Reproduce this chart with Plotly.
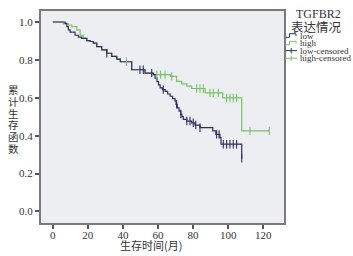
import numpy as np
import plotly.graph_objects as go

# ---- data ----
low_time = [0, 7.0, 8.0, 8.9, 9.9, 12.7, 14.6, 16.5, 19.4, 21.3, 23.1, 25.1, 27.9, 30.8, 33.6,
            36.5, 38.5, 45.0, 52.6, 57.3, 58.3, 59.4, 60.3, 61.2, 62.5, 64.1, 65.5, 66.9, 68.3,
            69.7, 70.3, 71.0, 72.0, 72.9, 73.6, 74.4, 76.4, 79.2, 81.1, 83.9, 91.2, 93.0, 95.3,
            95.9, 107.7]
low_surv = [1.0, 0.993, 0.975, 0.958, 0.946, 0.93, 0.92, 0.914, 0.902, 0.897, 0.888, 0.87, 0.853,
            0.835, 0.818, 0.804, 0.79, 0.748, 0.73, 0.722, 0.704, 0.685, 0.668, 0.652, 0.643,
            0.634, 0.62, 0.608, 0.595, 0.582, 0.565, 0.547, 0.53, 0.514, 0.5, 0.486, 0.477,
            0.468, 0.456, 0.442, 0.425, 0.407, 0.39, 0.355, 0.28]
low_censor = [30.8, 49.7, 51.6, 56.4, 63.0, 70.6, 73.0, 76.4, 78.2, 80.1, 81.5, 83.9, 93.4, 94.8,
              97.2, 99.1, 101.0, 102.9, 104.8, 107.7]

high_time = [0, 6.0, 8.9, 10.8, 13.7, 15.6, 17.5, 19.4, 21.3, 23.1, 25.1, 27.9, 30.8, 33.6, 36.5,
             38.5, 45.0, 52.6, 57.3, 67.0, 70.6, 73.5, 76.4, 79.2, 86.8, 96.9, 107.7, 123.4]
high_surv = [1.0, 0.99, 0.984, 0.975, 0.958, 0.93, 0.914, 0.902, 0.897, 0.888, 0.87, 0.853, 0.835,
             0.818, 0.804, 0.79, 0.748, 0.73, 0.722, 0.713, 0.687, 0.673, 0.661, 0.649, 0.626,
             0.599, 0.425, 0.425]
high_censor = [42.0, 59.3, 61.5, 64.0, 67.8, 82.0, 83.9, 85.8, 89.6, 91.5, 94.4, 99.1, 101.0,
               102.9, 104.8, 112.4, 123.4]

x_ticks = [0, 20, 40, 60, 80, 100, 120]
y_ticks = [0.0, 0.2, 0.4, 0.6, 0.8, 1.0]
y_tick_labels = ["0.0", "0.2", "0.4", "0.6", "0.8", "1.0"]
legend_title = ["TGFBR2", "表达情况"]
legend_labels = ["low", "high", "low-censored", "high-censored"]
x_title = "生存时间(月)"
y_title = "累计生存函数"

LOW_C = "#2f2f5e"
HIGH_C = "#7cc06a"


def step_value(times, survs, t):
    idx = np.searchsorted(np.asarray(times), t, side="right") - 1
    return float(np.asarray(survs)[idx])


fig = go.Figure()
fig.add_trace(go.Scatter(x=high_time, y=high_surv, mode="lines", line=dict(shape="hv", color=HIGH_C, width=1.2),
                         showlegend=False, hoverinfo="skip"))
fig.add_trace(go.Scatter(x=low_time, y=low_surv, mode="lines", line=dict(shape="hv", color=LOW_C, width=1.2),
                         showlegend=False, hoverinfo="skip"))
fig.add_trace(go.Scatter(x=high_censor, y=[step_value(high_time, high_surv, t) for t in high_censor],
                         mode="markers", marker=dict(symbol="line-ns", size=6, line=dict(color=HIGH_C, width=1.1)),
                         showlegend=False, hoverinfo="skip"))
fig.add_trace(go.Scatter(x=low_censor, y=[step_value(low_time, low_surv, t) for t in low_censor],
                         mode="markers", marker=dict(symbol="line-ns", size=6, line=dict(color=LOW_C, width=1.1)),
                         showlegend=False, hoverinfo="skip"))

W, H = 353, 256
L, R, T, B = 41, 284, 9.3, 222.7


def px(x):
    return (x - L) / (R - L)


def py(y):
    return (B - y) / (B - T)


tick_font = dict(family="Liberation Serif, Times New Roman, serif", size=11, color="#333333")
fig.update_xaxes(range=[-6.7, 131.8], tickvals=x_ticks, ticks="outside", ticklen=4, tickwidth=1.5,
                 tickcolor="#555555", showline=True, linecolor="#7a7a7a", linewidth=2, mirror=True,
                 showgrid=False, zeroline=False, tickfont=tick_font, ticklabelstandoff=-3)
fig.update_yaxes(range=[-0.061, 1.058], tickvals=y_ticks, ticktext=y_tick_labels, ticks="outside",
                 ticklen=4, tickwidth=1.5, tickcolor="#555555", showline=True, linecolor="#7a7a7a",
                 linewidth=2, mirror=True, showgrid=False, zeroline=False, tickfont=tick_font)

annotations = [
    dict(text=x_title, x=px(151), y=py(245), xref="paper", yref="paper", showarrow=False,
         font=dict(family="Noto Sans CJK SC", size=11, color="#333333"), xanchor="center", yanchor="middle"),
    dict(text=legend_title[0], x=px(318), y=py(12.5), xref="paper", yref="paper", showarrow=False,
         font=dict(family="Liberation Serif, serif", size=12, color="#333333"), xanchor="center", yanchor="middle"),
    dict(text=legend_title[1], x=px(316), y=py(24.5), xref="paper", yref="paper", showarrow=False,
         font=dict(family="Noto Sans CJK SC", size=12.5, color="#333333"), xanchor="center", yanchor="middle"),
]
for i, ch in enumerate(y_title):
    annotations.append(dict(text=ch, x=px(13), y=py(88.5 + 11.8 * i), xref="paper", yref="paper",
                            showarrow=False, font=dict(family="Noto Sans CJK SC", size=10.5, color="#333333"),
                            xanchor="center", yanchor="middle"))

shapes = []
leg_y = [34.0, 41.6, 49.2, 56.8]
leg_col = [LOW_C, HIGH_C, LOW_C, HIGH_C]
for i, (lab, yy, col) in enumerate(zip(legend_labels, leg_y, leg_col)):
    annotations.append(dict(text=lab, x=px(298), y=py(yy), xref="paper", yref="paper", showarrow=False,
                            font=dict(family="Liberation Serif, serif", size=9, color="#333333"),
                            xanchor="left", yanchor="middle"))
    if i < 2:
        path = (f"M {px(285.5)} {py(yy + 1.8)} L {px(289.5)} {py(yy + 1.8)} L {px(289.5)} {py(yy - 1.8)} "
                f"L {px(296)} {py(yy - 1.8)} L {px(296)} {py(yy + 0.5)}")
        shapes.append(dict(type="path", path=path, xref="paper", yref="paper", line=dict(color=col, width=1)))
    else:
        shapes.append(dict(type="line", x0=px(285.5), x1=px(297), y0=py(yy), y1=py(yy), xref="paper",
                           yref="paper", line=dict(color=col, width=1)))
        shapes.append(dict(type="line", x0=px(291.2), x1=px(291.2), y0=py(yy - 2.8), y1=py(yy + 2.8),
                           xref="paper", yref="paper", line=dict(color=col, width=1)))

fig.update_layout(width=W, height=H, margin=dict(l=L, r=W - R, t=T, b=H - B, pad=0),
                  plot_bgcolor="#eceef1", paper_bgcolor="white", annotations=annotations, shapes=shapes,
                  showlegend=False)

fig.write_html("out.html", config={"displayModeBar": False},
               post_script="document.body.style.margin='0px';")
